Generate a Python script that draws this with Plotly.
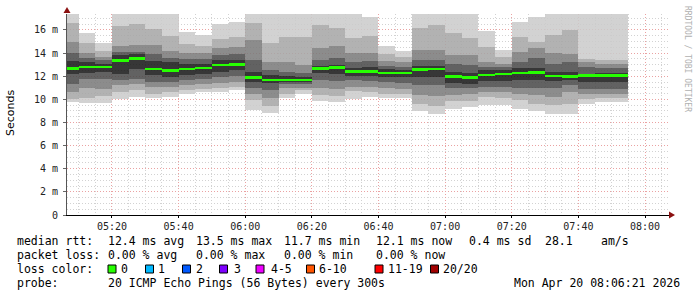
import numpy as np
import pandas as pd
import plotly.graph_objects as go

# ---------------- data ----------------
# 5-minute smokeping steps; each bar is centred on the middle of its step
step_center = pd.date_range("2026-04-20 05:07:30", periods=34, freq="5min").strftime("%Y-%m-%d %H:%M:%S").tolist()

median = [12.69, 12.80, 12.80, 13.38, 13.52, 12.63, 12.48, 12.63, 12.71, 12.97, 13.03,
          11.88, 11.68, 11.68, 11.68, 12.66, 12.77, 12.42, 12.40, 12.28, 12.28, 12.57,
          12.63, 12.00, 11.88, 12.11, 12.19, 12.28, 12.31, 12.02, 12.00, 12.08, 12.08, 12.08]
p_min = [9.75, 9.65, 9.65, 10.0, 10.2, 10.1, 10.2, 10.5, 10.6, 10.6, 10.8,
         9.08, 8.8, 10.1, 10.5, 9.86, 9.8, 10.03, 10.2, 10.1, 10.1, 9.0,
         8.7, 9.2, 9.37, 9.5, 9.5, 9.2, 9.0, 8.7, 8.7, 9.6, 9.8, 9.8]
p_lo1 = [10.0, 10.1, 10.3, 10.6, 10.8, 10.5, 10.6, 10.8, 10.9, 11.0, 11.1,
         9.95, 9.4, 10.5, 10.8, 10.4, 10.3, 10.7, 10.6, 10.5, 10.5, 9.6,
         9.4, 9.9, 9.9, 10.2, 10.1, 9.95, 9.6, 9.5, 9.6, 10.0, 10.1, 10.1]
p_lo2 = [10.6, 11.0, 10.9, 11.2, 11.35, 11.1, 11.1, 11.2, 11.3, 11.4, 11.5,
         10.5, 10.1, 11.0, 11.0, 10.95, 10.9, 11.1, 11.1, 11.0, 10.9, 10.4,
         10.3, 10.4, 10.5, 10.6, 10.6, 10.5, 10.4, 10.2, 10.6, 10.5, 10.5, 10.5]
p_lo3 = [11.3, 11.8, 11.8, 11.7, 11.8, 11.5, 11.5, 11.7, 11.8, 11.9, 12.0,
         10.95, 10.8, 11.3, 11.3, 11.7, 11.6, 11.7, 11.6, 11.5, 11.4, 11.2,
         11.2, 11.0, 11.0, 11.1, 11.1, 11.0, 11.0, 11.0, 11.2, 10.9, 10.9, 10.9]
p_lo4 = [12.2, 12.3, 12.4, 12.2, 12.6, 12.1, 11.9, 12.1, 12.2, 12.4, 12.5,
         11.5, 11.4, 11.5, 11.5, 12.3, 12.2, 12.0, 12.0, 11.9, 11.9, 11.9,
         11.9, 11.4, 11.3, 11.6, 11.6, 11.7, 11.7, 11.6, 11.7, 11.5, 11.5, 11.5]
p_hi4 = [13.3, 13.2, 13.1, 13.85, 13.95, 13.3, 13.2, 13.1, 13.1, 13.4, 13.4,
         12.4, 12.1, 12.0, 11.95, 12.9, 13.0, 12.7, 12.8, 12.6, 12.5, 12.9,
         12.9, 12.4, 12.3, 12.5, 12.5, 12.7, 12.7, 12.4, 12.4, 12.2, 12.25, 12.25]
p_hi3 = [14.0, 13.6, 13.4, 14.1, 14.1, 13.95, 13.6, 13.5, 13.5, 13.8, 13.9,
         13.4, 12.5, 12.4, 12.25, 13.4, 13.6, 13.25, 13.3, 12.9, 12.8, 13.4,
         13.4, 13.1, 13.0, 12.8, 12.8, 13.25, 13.55, 13.1, 13.2, 12.8, 12.7, 12.7]
p_hi2 = [15.0, 14.0, 13.7, 14.6, 14.7, 14.7, 14.2, 14.0, 14.0, 14.4, 14.5,
         15.1, 13.25, 13.25, 13.0, 14.4, 14.6, 14.0, 14.0, 13.3, 13.2, 14.3,
         14.3, 13.8, 13.8, 13.25, 13.1, 14.1, 14.4, 14.0, 13.95, 13.2, 13.1, 13.1]
p_hi1 = [16.6, 14.85, 14.2, 16.3, 16.5, 16.1, 15.5, 14.8, 14.6, 15.2, 15.4,
         16.6, 14.9, 15.4, 15.4, 16.4, 16.2, 15.3, 15.5, 13.9, 13.7, 16.2,
         16.4, 15.7, 15.3, 14.55, 13.7, 15.4, 15.0, 15.6, 16.0, 13.5, 13.4, 13.4]
p_max = [18.0, 15.75, 14.9, 18.0, 18.0, 18.0, 18.0, 15.85, 15.6, 16.5, 16.7,
         18.0, 18.0, 18.0, 18.0, 18.0, 18.0, 18.0, 17.15, 14.6, 14.2, 18.0,
         18.0, 18.0, 18.0, 15.9, 14.27, 16.7, 17.1, 18.0, 18.0, 18.0, 18.0, 18.0]

y_tick_vals = [0, 2, 4, 6, 8, 10, 12, 14, 16]
y_tick_text = ["0", "2 m", "4 m", "6 m", "8 m", "10 m", "12 m", "14 m", "16 m"]

rtt_stats = ["12.4 ms avg", "13.5 ms max", "11.7 ms min", "12.1 ms now", "0.4 ms sd", "28.1", "am/s"]
loss_stats = ["0.00 % avg", "0.00 % max", "0.00 % min", "0.00 % now"]
loss_labels = ["0", "1", "2", "3", "4-5", "6-10", "11-19", "20/20"]
loss_colors = ["#26ff00", "#00b8ff", "#0059ff", "#7e00ff", "#ee00ff", "#ff5500", "#ff0000", "#a10000"]
probe_text = "20 ICMP Echo Pings (56 Bytes) every 300s"
stamp_text = "Mon Apr 20 08:06:21 2026"

# ---------------- styling ----------------
W, H = 697, 297
L, R, T, B = 67, 670, 14, 215
MONO = "DejaVu Sans Mono"
FS = 11.5
ALPHA = 0.86
band_gray = [210, 178, 140, 98, 55]   # outer -> inner


def gray_rgba(g):
    v = max(0.0, (g - (1 - ALPHA) * 255) / ALPHA)
    v = int(round(v))
    return f"rgba({v},{v},{v},{ALPHA})"


def fx(px):
    return (px - L) / (R - L)


def fy(py):
    return (B - py) / (B - T)


STEP_MS = 5 * 60 * 1000

fig = go.Figure()

segments = [
    (p_min, p_lo1, 0), (p_lo1, p_lo2, 1), (p_lo2, p_lo3, 2), (p_lo3, p_lo4, 3),
    (p_lo4, p_hi4, 4),
    (p_hi4, p_hi3, 3), (p_hi3, p_hi2, 2), (p_hi2, p_hi1, 1), (p_hi1, p_max, 0),
]
for lo, hi, lvl in segments:
    lo_a = np.array(lo)
    hi_a = np.array(hi)
    fig.add_trace(go.Bar(
        x=step_center, base=lo_a.tolist(), y=(hi_a - lo_a).tolist(),
        width=STEP_MS,
        marker=dict(color=gray_rgba(band_gray[lvl]), line=dict(width=0)),
        showlegend=False, hoverinfo="skip",
    ))

med = np.array(median)
fig.add_trace(go.Bar(
    x=step_center, base=(med - 0.12).tolist(), y=[0.24] * len(median),
    width=STEP_MS,
    marker=dict(color="#26ff00", line=dict(width=0)),
    showlegend=False, hoverinfo="skip",
))

annotations = []
shapes = []


def txt(px, py, s, size=FS, anchor="left", color="#000", family=MONO, angle=0):
    annotations.append(dict(
        x=fx(px), y=fy(py), xref="paper", yref="paper", text=s, showarrow=False,
        xanchor=anchor, yanchor="middle", textangle=angle,
        font=dict(family=family, size=size, color=color), borderpad=0,
    ))


# y-axis title and side credit
txt(10, 113, "Seconds", size=11, anchor="center", family="DejaVu Sans", angle=-90)
txt(687, 59, "RRDTOOL / TOBI OETIKER", size=8, anchor="center", color="#b0b0b0", angle=90)

y1, y2, y3, y4 = 241, 255, 269, 283
col_x = [107, 195, 283, 375]
# line 1
txt(16, y1, "median rtt:")
for px, s in zip(col_x + [468, 544, 600], rtt_stats):
    txt(px, y1, s)
# line 2
txt(16, y2, "packet loss:")
for px, s in zip(col_x, loss_stats):
    txt(px, y2, s)
# line 3
txt(16, y3, "loss color:")
box_x = [108, 145.5, 182.5, 219.5, 256, 306.5, 375, 430.5]
lab_x = [120, 157, 195, 233, 270, 318, 387, 442]
for bx, lx, lab, c in zip(box_x, lab_x, loss_labels, loss_colors):
    shapes.append(dict(type="rect", xref="paper", yref="paper",
                       x0=fx(bx), x1=fx(bx + 8), y0=fy(273), y1=fy(265),
                       fillcolor=c, line=dict(color="#000", width=1)))
    txt(lx, y3, lab)
# line 4
txt(16, y4, "probe:")
txt(107, y4, probe_text)
txt(681, y4, stamp_text, anchor="right")

# axis arrows
arrow_col = "#8b1010"
shapes.append(dict(type="path", xref="paper", yref="paper",
                   path=f"M {fx(63.5)} {fy(13)} L {fx(70.5)} {fy(13)} L {fx(67)} {fy(7)} Z",
                   fillcolor=arrow_col, line=dict(width=0)))
shapes.append(dict(type="path", xref="paper", yref="paper",
                   path=f"M {fx(669)} {fy(211.5)} L {fx(669)} {fy(218.5)} L {fx(675)} {fy(215)} Z",
                   fillcolor=arrow_col, line=dict(width=0)))

major_grid = "#eaa2a2"
minor_grid = "#d2d2d2"

fig.update_layout(
    width=W, height=H, autosize=False,
    margin=dict(l=L, r=W - R, t=T, b=H - B, pad=0),
    paper_bgcolor="#ffffff", plot_bgcolor="#ffffff",
    barmode="overlay", bargap=0,
    showlegend=False,
    annotations=annotations, shapes=shapes,
    xaxis=dict(
        type="date",
        range=["2026-04-20 05:06:30", "2026-04-20 08:07:30"],
        tick0="2026-04-20 05:00", dtick=20 * 60 * 1000, tickformat="%H:%M",
        showgrid=True, gridcolor=major_grid, griddash="1px,2px", gridwidth=1,
        minor=dict(tick0="2026-04-20 05:00", dtick=STEP_MS, showgrid=True,
                   gridcolor=minor_grid, griddash="1px,2px", gridwidth=1, ticklen=0),
        showline=True, linecolor="#000", linewidth=1,
        ticks="outside", ticklen=2, tickcolor="#000",
        tickfont=dict(family=MONO, size=10, color="#222"),
        zeroline=False, fixedrange=True,
    ),
    yaxis=dict(
        range=[0, 17.38],
        tickmode="array", tickvals=y_tick_vals, ticktext=y_tick_text,
        showgrid=True, gridcolor=major_grid, griddash="1px,2px", gridwidth=1,
        minor=dict(tickmode="linear", tick0=0, dtick=0.5, showgrid=True,
                   gridcolor=minor_grid, griddash="1px,2px", gridwidth=1, ticklen=0),
        showline=True, linecolor="#555", linewidth=1,
        ticks="outside", ticklen=3, tickcolor="#666",
        ticklabelstandoff=3,
        tickfont=dict(family=MONO, size=10, color="#222"),
        zeroline=False, fixedrange=True,
    ),
)

fig.write_html("out.html")
